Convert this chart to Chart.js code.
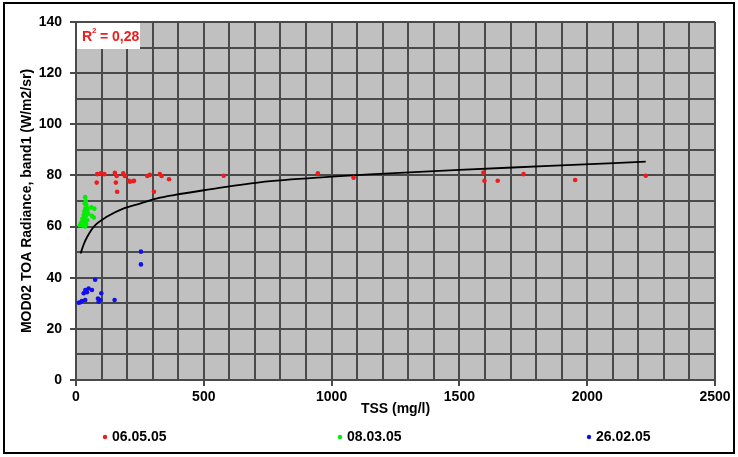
<!DOCTYPE html>
<html>
<head>
<meta charset="utf-8">
<script src="https://cdn.jsdelivr.net/npm/chart.js@4/dist/chart.umd.min.js"></script>
<style>
    html, body { margin: 0; padding: 0; background: #fff; }
</style>
</head>
<body>
<canvas id="tssChart" width="738" height="457"></canvas>
<script>
// series
const seriesNames = ['06.05.05', '08.03.05', '26.02.05'];
const seriesColors = ['#ee1c1c', '#00ee00', '#1010ee'];

const tssMay = [81, 83, 97, 111, 152, 156, 159, 161, 185, 191, 207, 211, 224, 227, 279, 289, 305, 328, 335, 364, 578, 946, 1086, 1594, 1598, 1650, 1751, 1953, 2229];
const radMay = [77.2, 80.5, 80.8, 80.5, 81, 77.2, 79.8, 73.6, 80.8, 79.8, 77.9, 77.5, 77.8, 77.9, 79.8, 80.2, 73.6, 80.5, 79.8, 78.5, 79.9, 80.8, 79.1, 81.1, 77.9, 77.9, 80.5, 78.2, 79.9];

const tssMar = [36, 38, 34, 40, 42, 36, 45, 60, 72, 33, 40, 47, 30, 38, 62, 70, 25, 35, 44, 20, 30, 40, 15, 28, 36];
const radMar = [71.5, 70, 69, 68.5, 67.5, 67, 66.5, 67.5, 67, 66, 65.5, 65, 64.5, 64, 64.2, 63.5, 63, 62.5, 62.5, 61.5, 61.5, 61, 60.5, 60.2, 60];

const tssFeb = [75, 49.5, 62.5, 36.5, 43, 30, 99, 86, 95, 23, 17, 10.5, 88.5, 151, 36, 254, 254];
const radFeb = [39.2, 35.8, 35.2, 35.2, 34.3, 33.9, 33.9, 31.9, 31.3, 30.9, 30.4, 30.2, 30.6, 31.3, 31.3, 50.2, 45.2];

// log trendline, points
const trendTss = [18, 30, 44, 70, 122, 187, 253, 318, 383, 500, 719, 1000, 1148, 1500, 1851, 2229];
const trendRad = [49.5, 53, 56, 60, 63.9, 67.1, 69.1, 71, 72.3, 74.2, 77.3, 79.5, 80.4, 82.2, 83.7, 85.4];

const xTickLabels = [0, 500, 1000, 1500, 2000, 2500];
const yTickLabels = [0, 20, 40, 60, 80, 100, 120, 140];
const r2Text = '= 0,28';

const gridColor = '#4a4a4a';
const fontFamily = '"Liberation Sans", Arial, sans-serif';
Chart.defaults.font.family = fontFamily;
Chart.defaults.color = '#000';

function toPoints(xs, ys) {
    return xs.map((x, i) => ({ x: x, y: ys[i] }));
}

const chartDecor = {
    id: 'chartDecor',
    beforeDraw(chart) {
        const { ctx, chartArea: a } = chart;
        ctx.save();
        ctx.fillStyle = '#fff';
        ctx.fillRect(0, 0, chart.width, chart.height);
        ctx.fillStyle = '#c0c0c0';
        ctx.fillRect(a.left, a.top, a.right - a.left, a.bottom - a.top);
        ctx.restore();
    },
    afterDraw(chart) {
        const { ctx, chartArea: a } = chart;
        ctx.save();

        // R² box
        ctx.fillStyle = '#fff';
        ctx.fillRect(a.left + 1, a.top + 1, 63, 26);
        ctx.fillStyle = '#ee1c1c';
        ctx.font = 'bold 14px ' + fontFamily;
        ctx.textBaseline = 'middle';
        ctx.fillText('R', a.left + 6, a.top + 15);
        ctx.font = 'bold 8px ' + fontFamily;
        ctx.fillText('2', a.left + 16, a.top + 9);
        ctx.font = 'bold 14px ' + fontFamily;
        ctx.fillText(' ' + r2Text, a.left + 20, a.top + 15);

        // legend
        const legendX = [105, 340, 589];
        chart.data.datasets.slice(0, 3).forEach((ds, i) => {
            ctx.fillStyle = ds.backgroundColor;
            ctx.beginPath();
            ctx.arc(legendX[i], 437, 2.2, 0, Math.PI * 2);
            ctx.fill();
            ctx.fillStyle = '#000';
            ctx.font = 'bold 14px ' + fontFamily;
            ctx.fillText(ds.label, legendX[i] + 7, 437);
        });

        // outer frame
        ctx.strokeStyle = '#000';
        ctx.lineWidth = 2;
        ctx.strokeRect(4, 3, 730, 450);
        ctx.restore();
    }
};

const ctx = document.getElementById('tssChart').getContext('2d');
new Chart(ctx, {
    type: 'scatter',
    data: {
        datasets: [
            { label: seriesNames[0], data: toPoints(tssMay, radMay), backgroundColor: seriesColors[0], pointRadius: 2.3, borderWidth: 0 },
            { label: seriesNames[1], data: toPoints(tssMar, radMar), backgroundColor: seriesColors[1], pointRadius: 2.3, borderWidth: 0 },
            { label: seriesNames[2], data: toPoints(tssFeb, radFeb), backgroundColor: seriesColors[2], pointRadius: 2.3, borderWidth: 0 },
            {
                label: 'trend',
                data: toPoints(trendTss, trendRad),
                showLine: true,
                borderColor: '#000',
                borderWidth: 1.8,
                pointRadius: 0,
                cubicInterpolationMode: 'monotone',
                fill: false
            }
        ]
    },
    options: {
        responsive: false,
        animation: false,
        layout: { padding: { top: 22, right: 23, bottom: 35, left: 0 } },
        plugins: {
            legend: { display: false },
            tooltip: { enabled: false }
        },
        scales: {
            x: {
                type: 'linear',
                min: 0,
                max: 2500,
                afterFit: s => { s.height = 42; },
                ticks: {
                    stepSize: 100,
                    maxTicksLimit: 100,
                    autoSkip: false,
                    maxRotation: 0,
                    padding: 3,
                    font: { size: 14, weight: 'bold' },
                    callback: v => xTickLabels.includes(v) ? v : ''
                },
                grid: {
                    color: gridColor,
                    lineWidth: 2,
                    tickLength: 6,
                    tickColor: c => (c.tick && c.tick.value % 500 === 0) ? gridColor : 'rgba(0,0,0,0)'
                },
                border: { color: gridColor, width: 2 },
                title: {
                    display: true,
                    text: 'TSS (mg/l)',
                    font: { size: 14, weight: 'bold' },
                    padding: { top: 0, bottom: 4 }
                }
            },
            y: {
                min: 0,
                max: 140,
                afterFit: s => { s.width = 76; },
                ticks: {
                    stepSize: 10,
                    maxTicksLimit: 100,
                    autoSkip: false,
                    padding: 8,
                    font: { size: 14, weight: 'bold' },
                    callback: v => yTickLabels.includes(v) ? v : ''
                },
                grid: {
                    color: gridColor,
                    lineWidth: 2,
                    tickLength: 6,
                    tickColor: c => (c.tick && c.tick.value % 20 === 0) ? gridColor : 'rgba(0,0,0,0)'
                },
                border: { color: gridColor, width: 2 },
                title: {
                    display: true,
                    text: 'MOD02 TOA Radiance, band1 (W/m2/sr)',
                    font: { size: 14, weight: 'bold' },
                    padding: { top: 19, bottom: 0 }
                }
            }
        }
    },
    plugins: [chartDecor]
});
</script>
</body>
</html>
